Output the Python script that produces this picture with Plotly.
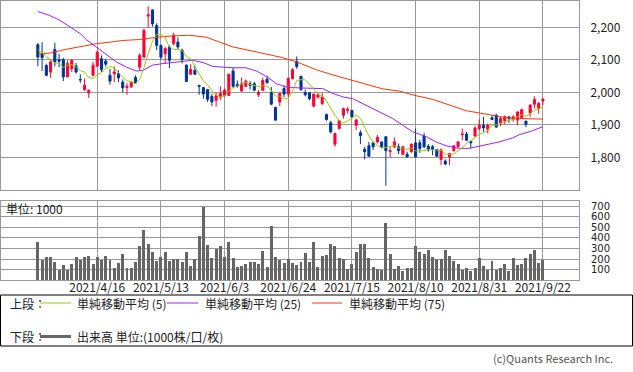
import numpy as np
import pandas as pd
import plotly.graph_objects as go

# ---------------- data ----------------
holidays = ["2021-04-29", "2021-05-03", "2021-05-04", "2021-05-05",
            "2021-07-22", "2021-07-23", "2021-08-09", "2021-09-20"]
dates = [d for d in pd.bdate_range("2021-03-29", "2021-09-22")
         if d.strftime("%Y-%m-%d") not in holidays]

open_ = [2147, 2119, 2083, 2063, 2132, 2101, 2101, 2048, 2073, 2082,
         2040, 2009, 1999, 2053, 2081, 2104, 2097, 2053, 2058, 2058,
         2032, 2015, 2017, 2046, 2078, 2109, 2235, 2254, 2206, 2145,
         2119, 2140, 2150, 2155, 2130, 2084, 2056, 2068, 2022, 2015,
         2009, 1988, 1976, 1986, 1991, 1991, 2066, 2025, 2005, 2019,
         2027, 2027, 1993, 2007, 2041, 1999, 1954, 1971, 2012, 1995,
         2043, 2096, 2050, 2000, 1999, 1958, 1986, 1966, 1932, 1907,
         1841, 1889, 1930, 1945, 1945, 1899, 1876, 1825, 1836, 1845,
         1848, 1848, 1864, 1818, 1833, 1833, 1810, 1810, 1818, 1845,
         1845, 1866, 1835, 1833, 1825, 1794, 1789, 1802, 1821, 1833,
         1870, 1872, 1850, 1866, 1889, 1899, 1886, 1922, 1930, 1907,
         1913, 1925, 1917, 1915, 1923, 1912, 1937, 1964, 1951, 1974]
high = [2152, 2155, 2089, 2099, 2153, 2119, 2106, 2099, 2101, 2091,
        2056, 2043, 2009, 2094, 2130, 2114, 2104, 2073, 2080, 2068,
        2040, 2029, 2035, 2053, 2121, 2196, 2265, 2255, 2213, 2147,
        2140, 2145, 2184, 2170, 2135, 2087, 2087, 2083, 2022, 2015,
        2009, 1995, 1999, 2019, 2012, 2058, 2076, 2037, 2046, 2040,
        2035, 2032, 2007, 2046, 2052, 2017, 1956, 1999, 2022, 2046,
        2075, 2111, 2050, 2009, 1999, 1997, 1999, 1999, 1935, 1913,
        1876, 1915, 1954, 1956, 1945, 1920, 1884, 1833, 1848, 1848,
        1869, 1848, 1864, 1833, 1862, 1843, 1836, 1818, 1843, 1889,
        1855, 1876, 1841, 1838, 1825, 1828, 1794, 1814, 1838, 1851,
        1889, 1879, 1851, 1896, 1917, 1925, 1904, 1930, 1935, 1925,
        1930, 1927, 1930, 1942, 1950, 1912, 1964, 1988, 1971, 1984]
low = [2081, 2066, 2050, 2045, 2080, 2078, 2035, 2048, 2063, 2058,
       2030, 2005, 1983, 2050, 2080, 2063, 2080, 2024, 2032, 2032,
       2000, 1993, 2015, 2027, 2068, 2107, 2199, 2203, 2130, 2101,
       2089, 2075, 2145, 2132, 2089, 2034, 2056, 2056, 1993, 1981,
       1971, 1958, 1956, 1976, 1986, 1991, 2015, 2015, 2002, 2017,
       2009, 2005, 1986, 2005, 2027, 1961, 1913, 1958, 1986, 1986,
       2040, 2073, 2005, 1988, 1976, 1954, 1981, 1961, 1913, 1874,
       1833, 1886, 1920, 1935, 1920, 1884, 1841, 1794, 1804, 1823,
       1843, 1828, 1713, 1800, 1828, 1810, 1807, 1799, 1814, 1800,
       1814, 1828, 1818, 1807, 1802, 1777, 1777, 1777, 1818, 1831,
       1853, 1851, 1828, 1864, 1884, 1879, 1874, 1915, 1891, 1896,
       1902, 1907, 1910, 1899, 1920, 1894, 1925, 1951, 1935, 1961]
close = [2109, 2107, 2053, 2094, 2094, 2096, 2048, 2089, 2099, 2063,
         2039, 2022, 2007, 2084, 2124, 2070, 2087, 2035, 2063, 2045,
         2014, 2019, 2030, 2029, 2114, 2191, 2239, 2211, 2145, 2109,
         2135, 2099, 2176, 2140, 2101, 2034, 2071, 2056, 2019, 1995,
         1979, 1971, 1991, 1997, 2007, 2056, 2019, 2019, 2027, 2035,
         2022, 2007, 2000, 2037, 2030, 1964, 1915, 1997, 1995, 2043,
         2070, 2080, 2009, 1993, 1981, 1995, 1993, 1986, 1917, 1879,
         1874, 1913, 1950, 1948, 1925, 1915, 1867, 1818, 1804, 1833,
         1862, 1833, 1821, 1821, 1848, 1821, 1833, 1802, 1841, 1802,
         1828, 1833, 1823, 1826, 1804, 1823, 1780, 1812, 1836, 1848,
         1872, 1853, 1845, 1891, 1899, 1891, 1899, 1917, 1894, 1920,
         1925, 1920, 1925, 1940, 1947, 1902, 1961, 1978, 1966, 1979]
volume = [358, 195, 217, 217, 170, 94, 141, 94, 151, 217,
          195, 217, 226, 151, 217, 195, 226, 189, 113, 160,
          245, 113, 113, 170, 321, 472, 340, 264, 179, 217,
          264, 179, 198, 198, 170, 264, 132, 198, 415, 692,
          330, 208, 292, 321, 217, 358, 208, 123, 132, 151,
          170, 170, 151, 274, 123, 509, 217, 189, 160, 198,
          162, 147, 172, 256, 172, 360, 125, 228, 234, 340,
          322, 209, 200, 106, 153, 265, 340, 340, 209, 125,
          106, 97, 537, 247, 106, 134, 90, 115, 115, 322,
          265, 247, 284, 219, 200, 200, 284, 225, 181, 153,
          97, 115, 90, 115, 209, 134, 97, 181, 97, 115,
          153, 90, 209, 144, 153, 209, 247, 284, 162, 190]

# SMA(5) values before enough history is shown
sma5_head = [2132, 2123, 2110, 2100]

# SMA(25), SMA(75) (x in trading-day index)
sma25_pos = [0, 2.8, 5.2, 7.5, 10, 11.5, 13.8, 16, 18.5, 20.9, 23.2, 24.8, 27,
             29.5, 31.8, 34.2, 36.5, 38.9, 41.3, 46, 49, 51.5, 53.8, 56.2, 58.5,
             61.6, 64, 67.1, 69.5, 72, 74.2, 76.6, 79, 81.3, 83.6, 86, 88.3,
             91.5, 93.8, 96.2, 99.3, 101.6, 104, 106.4, 108.7, 111.8, 113.4,
             116.5, 119]
sma25_val = [2249, 2237, 2222, 2201, 2181, 2162, 2140, 2119, 2094, 2078, 2066,
             2068, 2084, 2089, 2092, 2096, 2099, 2092, 2080, 2076, 2076, 2066,
             2050, 2027, 2017, 2014, 2014, 2012, 1997, 1986, 1981, 1966, 1951,
             1935, 1920, 1899, 1879, 1864, 1848, 1836, 1828, 1828, 1834, 1840,
             1848, 1860, 1870, 1882, 1895]
sma75_pos = [0, 2.8, 6.7, 10.7, 13.8, 17, 20, 24, 28, 31.8, 35.8, 39.7, 42.8,
             46, 50.7, 53.8, 57.7, 61.6, 65.6, 69.5, 73.4, 77.3, 81.3, 85.2,
             89.1, 93, 97, 100.9, 104, 107.1, 110.2, 113.4, 116.5, 119]
sma75_val = [2119, 2121, 2133, 2143, 2150, 2155, 2160, 2163, 2170, 2174, 2176,
             2170, 2155, 2140, 2127, 2119, 2107, 2091, 2070, 2054, 2040, 2026,
             2011, 2004, 1990, 1979, 1962, 1944, 1937, 1929, 1923, 1920, 1918,
             1918]

tick_labels = ["2021/4/16", "2021/5/13", "2021/6/3", "2021/6/24",
               "2021/7/15", "2021/8/10", "2021/8/31", "2021/9/22"]
price_ticks = [1800, 1900, 2000, 2100, 2200]
volume_ticks = [100, 200, 300, 400, 500, 600, 700]

# ---------------- derived ----------------
x = np.arange(len(dates))
date_strs = [f"{d.year}/{d.month}/{d.day}" for d in dates]
tick_pos = [date_strs.index(t) for t in tick_labels]
c = np.array(close, dtype=float)
sma5 = list(sma5_head) + [c[i - 4:i + 1].mean() for i in range(4, len(c))]

RED = "#ff0033"
BLUE = "#003399"
G_COL = "#99cc00"
P_COL = "#9922ff"
O_COL = "#ff3300"
GRID = "#9a9a9a"
FONT = "Noto Sans CJK JP"

W, H = 633, 372
def py(p):
    return 1 - p / H
def px(p):
    return p / W

fig = go.Figure()
fig.add_trace(go.Candlestick(
    x=x, open=open_, high=high, low=low, close=close,
    increasing=dict(line=dict(color=RED, width=1), fillcolor=RED),
    decreasing=dict(line=dict(color=BLUE, width=1), fillcolor=BLUE),
    whiskerwidth=0, xaxis="x", yaxis="y", showlegend=False, hoverinfo="skip"))
fig.add_trace(go.Scatter(x=sma75_pos, y=sma75_val, mode="lines",
                         line=dict(color=O_COL, width=1), xaxis="x", yaxis="y",
                         showlegend=False, hoverinfo="skip"))
fig.add_trace(go.Scatter(x=sma25_pos, y=sma25_val, mode="lines",
                         line=dict(color=P_COL, width=1), xaxis="x", yaxis="y",
                         showlegend=False, hoverinfo="skip"))
fig.add_trace(go.Scatter(x=x, y=sma5, mode="lines", line=dict(color=G_COL, width=1),
                         xaxis="x", yaxis="y", showlegend=False, hoverinfo="skip"))
fig.add_trace(go.Bar(x=x, y=volume, marker=dict(color="#666666", line=dict(width=0)),
                     width=0.7, xaxis="x2", yaxis="y2", showlegend=False,
                     hoverinfo="skip"))

xr = [-8.8, 127.5]
xdom = [px(0.5), px(579)]
common_x = dict(range=xr, domain=xdom, tickvals=tick_pos, showgrid=True,
                gridcolor=GRID, gridwidth=1, showline=True, mirror=True,
                linecolor=GRID, linewidth=1, zeroline=False, ticks="",
                fixedrange=True)
fig.update_layout(
    width=W, height=H, autosize=False,
    margin=dict(l=0, r=0, t=0, b=0),
    paper_bgcolor="white", plot_bgcolor="white",
    font=dict(family=FONT, size=12, color="#222222"),
    bargap=0,
    xaxis=dict(**common_x, anchor="y", showticklabels=False,
               rangeslider=dict(visible=False)),
    yaxis=dict(domain=[py(190), py(0.5)], range=[1700, 2283], side="right",
               tickvals=price_ticks, tickformat=",d", showgrid=True,
               gridcolor=GRID, showline=True, mirror=True, linecolor=GRID,
               zeroline=False, ticks="", ticklabelstandoff=8, anchor="x",
               fixedrange=True),
    xaxis2=dict(**common_x, anchor="y2", ticktext=tick_labels, showticklabels=True,
                ticklabelstandoff=-4),
    yaxis2=dict(domain=[py(280.3), py(201)], range=[0, 748], side="right",
                tickvals=volume_ticks, showgrid=True, gridcolor=GRID,
                showline=True, mirror=True, linecolor=GRID, zeroline=False,
                ticks="", ticklabelstandoff=9, anchor="x2", fixedrange=True,
                tickfont=dict(family="DejaVu Sans", size=10)),
)

shapes = []
annotations = []
# legend box
shapes.append(dict(type="rect", xref="paper", yref="paper", x0=px(0.5), x1=px(632.5),
                   y0=py(346), y1=py(295), line=dict(color="black", width=1)))
row1, row2 = 303, 336.5
legend_items = [(40, 71, G_COL, 75, "単純移動平均 (5)"),
                (167, 198, P_COL, 203, "単純移動平均 (25)"),
                (312, 342, O_COL, 347, "単純移動平均 (75)")]
annotations.append(dict(x=px(8), y=py(row1), xref="paper", yref="paper", text="上段：",
                        showarrow=False, xanchor="left", yanchor="middle",
                        font=dict(size=12)))
for x0, x1, col, tx, label in legend_items:
    shapes.append(dict(type="line", xref="paper", yref="paper", x0=px(x0), x1=px(x1),
                       y0=py(row1), y1=py(row1), line=dict(color=col, width=1)))
    annotations.append(dict(x=px(tx), y=py(row1), xref="paper", yref="paper",
                            text=label, showarrow=False, xanchor="left",
                            yanchor="middle", font=dict(size=12)))
annotations.append(dict(x=px(8), y=py(row2), xref="paper", yref="paper", text="下段：",
                        showarrow=False, xanchor="left", yanchor="middle",
                        font=dict(size=12)))
shapes.append(dict(type="line", xref="paper", yref="paper", x0=px(40), x1=px(71),
                   y0=py(row2), y1=py(row2), line=dict(color="#666666", width=3)))
annotations.append(dict(x=px(75), y=py(row2), xref="paper", yref="paper",
                        text="出来高 単位:(1000株/口/枚)", showarrow=False,
                        xanchor="left", yanchor="middle", font=dict(size=12)))
annotations.append(dict(x=px(4), y=py(209), xref="paper", yref="paper",
                        text="単位: 1000", showarrow=False, xanchor="left",
                        yanchor="middle", font=dict(size=12)))
annotations.append(dict(x=px(615), y=py(358), xref="paper", yref="paper",
                        text="(c)Quants Research Inc.", showarrow=False,
                        xanchor="right", yanchor="middle",
                        font=dict(size=11, color="#555555")))
fig.update_layout(shapes=shapes, annotations=annotations)

fig.write_html("out.html",
               config={"displayModeBar": False, "staticPlot": True},
               post_script="document.body.style.margin='0';"
                           "document.body.style.overflow='hidden';")
